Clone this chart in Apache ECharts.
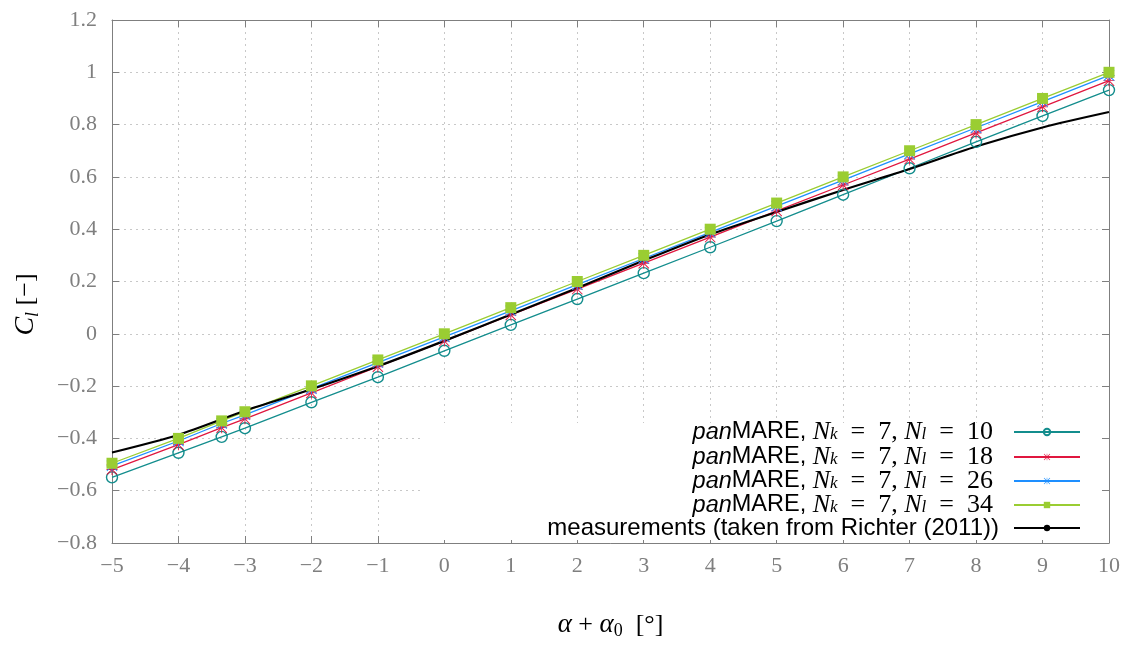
<!DOCTYPE html>
<html>
<head>
<meta charset="utf-8">
<script src="https://cdn.jsdelivr.net/npm/echarts@6/dist/echarts.min.js"></script>
<style>
  html, body { margin: 0; padding: 0; background: #ffffff; }
  #chart { width: 1126px; height: 645px; }
</style>
</head>
<body>
<div id="chart"></div>
<script>
// Angle of attack (alpha + alpha0, degrees) for the panMARE runs
const alphaSim = [-5, -4, -3.35, -3, -2, -1, 0, 1, 2, 3, 4, 5, 6, 7, 8, 9, 10];
// Lift coefficient for N_k = 7 and increasing N_l
const clNl10 = [-0.549, -0.455, -0.394, -0.361, -0.262, -0.166, -0.065, 0.034, 0.133, 0.232, 0.331, 0.431, 0.532, 0.633, 0.734, 0.833, 0.932];
const clNl18 = [-0.519, -0.424, -0.359, -0.325, -0.226, -0.126, -0.028, 0.072, 0.171, 0.270, 0.370, 0.470, 0.569, 0.668, 0.768, 0.868, 0.968];
const clNl26 = [-0.505, -0.410, -0.343, -0.310, -0.210, -0.110, -0.012, 0.088, 0.188, 0.288, 0.388, 0.488, 0.588, 0.688, 0.788, 0.888, 0.988];
const clNl34 = [-0.495, -0.400, -0.333, -0.298, -0.199, -0.100, 0.000, 0.100, 0.200, 0.300, 0.400, 0.500, 0.600, 0.700, 0.800, 0.900, 1.000];
// Wind tunnel measurements (Richter 2011)
const alphaMeas = [-5, -4, -3, -2, -1, 0, 1, 2, 3, 4, 5, 6, 7, 8, 9, 10];
const clMeas = [-0.454, -0.386, -0.294, -0.212, -0.124, -0.027, 0.074, 0.175, 0.280, 0.380, 0.466, 0.550, 0.630, 0.716, 0.789, 0.848];
// Series names and their legend markup
const seriesNames = ['Nl10', 'Nl18', 'Nl26', 'Nl34', 'meas'];
const nlValues = { Nl10: '10', Nl18: '18', Nl26: '26', Nl34: '34' };
const measLabel = 'measurements (taken from Richter (2011))';
// Axis ranges
const xMin = -5, xMax = 10, xStep = 1;
const yMin = -0.8, yMax = 1.2, yStep = 0.2;

const pairs = (xs, ys) => xs.map((x, i) => [x, ys[i]]);

// Eight-armed asterisk marker built from four bars
const asterisk = 'path://M46 0L54 0L54 100L46 100Z M0 46L100 46L100 54L0 54Z M0 6L6 0L100 94L94 100Z M94 0L100 6L6 100L0 94Z';

const serif = 'Liberation Serif';
const sans = 'Liberation Sans';
const axisGrey = '#7f7f7f';

const chart = echarts.init(document.getElementById('chart'), null, { renderer: 'canvas' });

const minusFmt = v => String(+v.toFixed(1)).replace('-', '\u2212');

const baseX = {
  type: 'value', min: xMin, max: xMax, interval: xStep,
  axisLine: { show: true, onZero: false, lineStyle: { color: axisGrey, width: 1 } },
  axisTick: { show: true, inside: true, length: 7, lineStyle: { color: axisGrey } },
  splitLine: { show: false }
};
const baseY = {
  type: 'value', min: yMin, max: yMax, interval: yStep,
  axisLine: { show: true, onZero: false, lineStyle: { color: axisGrey, width: 1 } },
  axisTick: { show: true, inside: true, length: 7, lineStyle: { color: axisGrey } },
  splitLine: { show: false }
};

const lineSeries = (name, data, color, symbol, size, itemStyle) => ({
  name, type: 'line', data, symbol, symbolSize: size,
  showSymbol: true,
  lineStyle: { color, width: 1.3 },
  itemStyle: itemStyle || { color },
  emphasis: { disabled: true },
  animation: false
});

// Key text styles
const keyRich = {
  p: { fontFamily: sans, fontStyle: 'italic', fontSize: 23.5, color: '#000', lineHeight: 22 },
  s: { fontFamily: sans, fontSize: 23.5, color: '#000', lineHeight: 22 },
  m: { fontFamily: serif, fontStyle: 'italic', fontSize: 26, color: '#000', lineHeight: 22 },
  b: { fontFamily: serif, fontStyle: 'italic', fontSize: 17, color: '#000', lineHeight: 13, verticalAlign: 'bottom' },
  r: { fontFamily: serif, fontSize: 26, color: '#000', lineHeight: 22 },
  e: { fontFamily: serif, fontSize: 26, color: '#000', lineHeight: 22, padding: [0, 16, 0, 0] },
  t: { fontFamily: sans, fontSize: 24, color: '#000', lineHeight: 22, padding: [0, 10, 0, 0] }
};
const keyText = name => {
  if (name === 'meas') return '{t|' + measLabel + '}';
  return '{p|pan}{s|MARE, }{m|N}{b|k}{r|  =  7, }{m|N}{b|l}{e|  =  ' + nlValues[name] + '}';
};
// one key row per series, stacked 24 px apart
const keyTops = [419, 444, 468, 492, 516];
const legends = seriesNames.map((name, i) => ({
  orient: 'vertical', align: 'right',
  right: 45, top: keyTops[i], padding: 0,
  itemWidth: 66, itemHeight: 8, itemGap: 0,
  data: [name],
  formatter: keyText,
  textStyle: { rich: keyRich }
}));

chart.setOption({
  backgroundColor: '#ffffff',
  animation: false,
  grid: { left: 112, right: 17, top: 20, bottom: 97, containLabel: false },
  // blank key area behind the legend
  graphic: [{
    type: 'rect', z: 1, silent: true,
    shape: { x: 421, y: 423, width: 679, height: 117 },
    style: { fill: '#ffffff' }
  }],
  xAxis: [
    Object.assign({}, baseX, {
      position: 'bottom',
      name: '{a|\u03b1}{o| + }{a|\u03b1}{s|0}{o|  [\u00b0]}',
      nameLocation: 'middle', nameGap: 67,
      nameTextStyle: {
        rich: {
          a: { fontFamily: serif, fontStyle: 'italic', fontSize: 27, color: '#000', lineHeight: 30 },
          o: { fontFamily: serif, fontSize: 26, color: '#000', lineHeight: 30 },
          s: { fontFamily: serif, fontSize: 18, color: '#000', lineHeight: 18, verticalAlign: 'bottom' }
        }
      },
      axisLabel: { show: true, margin: 12, color: axisGrey, fontFamily: serif, fontSize: 22, formatter: minusFmt },
      splitLine: { show: true, lineStyle: { color: '#c8c8c8', width: 1, type: [2, 4] } }
    }),
    Object.assign({}, baseX, { position: 'top', axisLabel: { show: false } })
  ],
  yAxis: [
    Object.assign({}, baseY, {
      position: 'left',
      name: '{c|C}{l|l}{o| [\u2212]}',
      nameLocation: 'middle', nameGap: 70, nameRotate: 90,
      nameTextStyle: {
        padding: [0, 46, 0, 0],
        rich: {
          c: { fontFamily: serif, fontStyle: 'italic', fontSize: 28, color: '#000', lineHeight: 32 },
          l: { fontFamily: serif, fontStyle: 'italic', fontSize: 18, color: '#000', lineHeight: 18, verticalAlign: 'bottom' },
          o: { fontFamily: serif, fontSize: 26, color: '#000', lineHeight: 32 }
        }
      },
      axisLabel: { show: true, margin: 15, color: axisGrey, fontFamily: serif, fontSize: 22, formatter: minusFmt },
      splitLine: { show: true, lineStyle: { color: '#c8c8c8', width: 1, type: [2, 4] } }
    }),
    Object.assign({}, baseY, { position: 'right', axisLabel: { show: false } })
  ],
  legend: legends,
  series: [
    lineSeries('Nl10', pairs(alphaSim, clNl10), '#138d8d', 'circle', 11,
      { color: 'rgba(255,255,255,0)', borderColor: '#138d8d', borderWidth: 1.4 }),
    lineSeries('Nl18', pairs(alphaSim, clNl18), '#e0173f', asterisk, 11),
    lineSeries('Nl26', pairs(alphaSim, clNl26), '#1e8fff', asterisk, 11),
    lineSeries('Nl34', pairs(alphaSim, clNl34), '#9acd32', 'rect', 11),
    {
      name: 'meas', type: 'line', data: pairs(alphaMeas, clMeas),
      symbol: 'none', smooth: 0.3,
      lineStyle: { color: '#000000', width: 2.2 },
      itemStyle: { color: '#000000' },
      emphasis: { disabled: true },
      animation: false
    }
  ]
});
</script>
</body>
</html>
